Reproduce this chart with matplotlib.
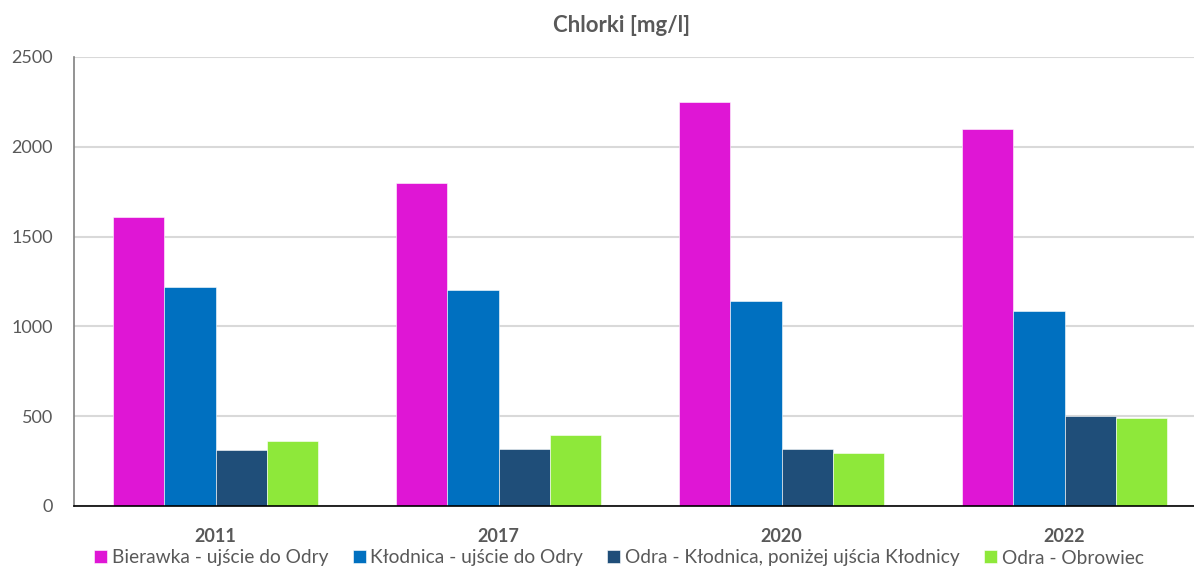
import matplotlib.pyplot as plt
import numpy as np

plt.rcParams['font.family'] = ['Lato', 'DejaVu Sans']

# dane
lata = ["2011", "2017", "2020", "2022"]
serie = ["Bierawka - ujście do Odry", "Kłodnica - ujście do Odry",
         "Odra - Kłodnica, poniżej ujścia Kłodnicy", "Odra - Obrowiec"]
bierawka = [1610, 1800, 2250, 2100]
klodnica = [1220, 1200, 1140, 1085]
odra_klodnica = [310, 320, 315, 500]
odra_obrowiec = [360, 395, 295, 490]
kolory = ["#DF16D5", "#0070C0", "#1F4E79", "#8EE83A"]

wartosci = [bierawka, klodnica, odra_klodnica, odra_obrowiec]

fig = plt.figure(figsize=(11.94, 5.67), dpi=100)
ax = fig.add_axes([74 / 1194, 61 / 567, 1 - 74 / 1194, 449 / 567])

x = np.arange(len(lata))
w = 0.181
for i, (vals, kol, nazwa) in enumerate(zip(wartosci, kolory, serie)):
    ax.bar(x + (i - 1.5) * w, vals, w, color=kol, label=nazwa,
           edgecolor="white", linewidth=0.4, zorder=3)

ax.set_ylim(0, 2500)
ax.set_yticks(range(0, 2501, 500))
ax.set_xlim(-0.5, 3.5 - 12 / 283)
ax.set_xticks(x)
ax.set_xticklabels(lata, fontweight="bold", fontsize=13.5)
ax.grid(axis="y", color="#d9d9d9", linewidth=1.5, zorder=0)
ax.tick_params(axis="both", length=0, colors="#595959", labelsize=13)
ax.tick_params(axis="x", pad=16)
ax.tick_params(axis="y", pad=15)

for s in ["top", "right"]:
    ax.spines[s].set_visible(False)
ax.spines["left"].set_color("#808080")
ax.spines["left"].set_linewidth(1.2)
ax.spines["bottom"].set_color("black")
ax.spines["bottom"].set_linewidth(1.2)
ax.spines["bottom"].set_zorder(4)

fig.text(622 / 1194, 1 - 26 / 567, "Chlorki [mg/l]", ha="center", va="center",
         fontsize=16, fontweight="bold", color="#595959")

fig.legend(loc="center", bbox_to_anchor=(619 / 1194, 1 - 558 / 567), ncol=4,
           frameon=False, fontsize=13.8, labelcolor="#595959",
           handlelength=0.68, handleheight=0.68, handletextpad=0.25,
           columnspacing=1.25)

plt.savefig("out.png", dpi=100)
